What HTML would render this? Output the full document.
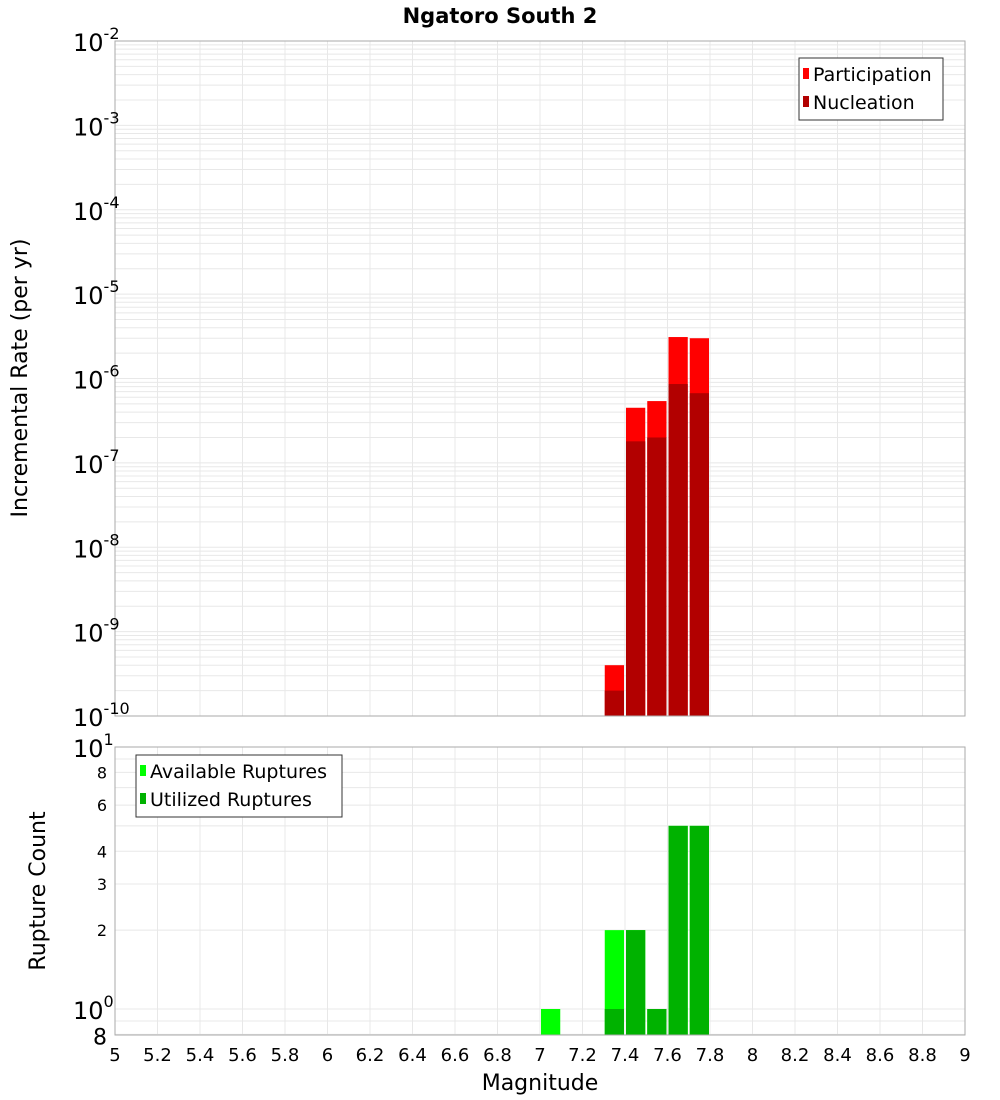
<!DOCTYPE html>
<html><head><meta charset="utf-8"><style>
html,body{margin:0;padding:0;background:#fff;}
svg{display:block;font-family:"Liberation Sans","DejaVu Sans",sans-serif;}
</style></head><body>
<svg id="chart" width="1000" height="1100" viewBox="0 0 1000 1100" xmlns="http://www.w3.org/2000/svg">
<text x="500" y="23" text-anchor="middle" font-size="21" font-weight="bold" font-family="DejaVu Sans, sans-serif">Ngatoro South 2</text>
<g id="topg"></g><g id="botg"></g>
<text transform="translate(27,378) rotate(-90)" text-anchor="middle" font-size="22" font-family="DejaVu Sans, sans-serif">Incremental Rate (per yr)</text>
<text transform="translate(45,891) rotate(-90)" text-anchor="middle" font-size="22" font-family="DejaVu Sans, sans-serif">Rupture Count</text>
<text x="540" y="1090" text-anchor="middle" font-size="22" font-family="DejaVu Sans, sans-serif">Magnitude</text>
</svg>
<script>
const mags = [7.05, 7.35, 7.45, 7.55, 7.65, 7.75];
const participation = [null, 4.0e-10, 4.5e-7, 5.4e-7, 3.1e-6, 3.0e-6];
const nucleation = [null, 2.0e-10, 1.8e-7, 2.0e-7, 8.6e-7, 6.7e-7];
const available = [1, 2, 2, 1, 5, 5];
const utilized = [null, 1, 2, 1, 5, 5];
const xTicks = [5,5.2,5.4,5.6,5.8,6,6.2,6.4,6.6,6.8,7,7.2,7.4,7.6,7.8,8,8.2,8.4,8.6,8.8,9];
const topExps = [-10,-9,-8,-7,-6,-5,-4,-3,-2];
const botTicks = [0.8,1,2,3,4,6,8,10];

const NS = "http://www.w3.org/2000/svg";
const L=115,R=965;
const xs = m => L + (m-5)/4*(R-L);
const T0=41,T1=716; const yT = v => T1 - (Math.log10(v)+10)/8*(T1-T0);
const B0=747,B1=1035; const yB = v => 1009 - Math.log10(v)*262;
function mk(p,tag,a,txt){const e=document.createElementNS(NS,tag);for(const k in a)e.setAttribute(k,a[k]);if(txt!==undefined)e.textContent=txt;p.appendChild(e);return e;}
const topG=document.getElementById('topg'), botG=document.getElementById('botg');

for(const t of xTicks){
  const g1=mk(topG,'line',{x1:xs(t),x2:xs(t),y1:T0,y2:T1,stroke:'#e8e8e8'});
  
  
  const g2=mk(botG,'line',{x1:xs(t),x2:xs(t),y1:B0,y2:B1,stroke:'#e8e8e8'});
  
  
}
for(let e=-10;e<-2;e++)for(let k=1;k<10;k++){
  const y=yT(k*Math.pow(10,e));
  const g=mk(topG,'line',{x1:L,x2:R,y1:y,y2:y,stroke:'#e8e8e8'});
  
  
}
for(const v of [0.8,0.9,1,2,3,4,5,6,7,8,9]){
  const y=yB(v);
  const g=mk(botG,'line',{x1:L,x2:R,y1:y,y2:y,stroke:'#e8e8e8'});
  
  
}
const bw=xs(5.1)-xs(5)-2;
mags.forEach((m,i)=>{
  const bx=xs(m-0.05)+1;
  if(participation[i]){const r=mk(topG,'rect',{x:bx,y:yT(participation[i]),width:bw,height:T1-yT(participation[i]),fill:'#ff0000'});
    
    }
  if(nucleation[i]){const r=mk(topG,'rect',{x:bx,y:yT(nucleation[i]),width:bw,height:T1-yT(nucleation[i]),fill:'#b20000'});
    
    }
  if(available[i]){const r=mk(botG,'rect',{x:bx,y:yB(available[i]),width:bw,height:B1-yB(available[i]),fill:'#00ff00'});
    
    }
  if(utilized[i]){const r=mk(botG,'rect',{x:bx,y:yB(utilized[i]),width:bw,height:B1-yB(utilized[i]),fill:'#00b200'});
    
    }
});
const f1=mk(topG,'rect',{x:L,y:T0,width:R-L,height:T1-T0,fill:'none',stroke:'#aaa'});


const f2=mk(botG,'rect',{x:L,y:B0,width:R-L,height:B1-B0,fill:'none',stroke:'#aaa'});


for(const e of topExps){
  const y=yT(Math.pow(10,e));
  const t=mk(topG,'text',{x:73,y:y+10,'font-size':24,'font-family':'DejaVu Sans, sans-serif'});
  
  
  mk(t,'tspan',{},'10');mk(t,'tspan',{dy:-12,'font-size':16},String(e));
}
for(const v of botTicks){
  const y=yB(v);let t;
  if(v===1||v===10){
    t=mk(botG,'text',{x:73,y:y+10,'font-size':24,'font-family':'DejaVu Sans, sans-serif'});
    mk(t,'tspan',{},'10');mk(t,'tspan',{dy:-12,'font-size':16},v===1?'0':'1');
  } else if(v===0.8){
    t=mk(botG,'text',{x:107,y:y+10,'font-size':22,'text-anchor':'end','font-family':'DejaVu Sans, sans-serif'},'8');
  } else {
    t=mk(botG,'text',{x:107,y:y+6,'font-size':16,'text-anchor':'end','font-family':'DejaVu Sans, sans-serif'},String(v));
  }
  
  
}
for(const tk of xTicks){
  const t=mk(botG,'text',{x:xs(tk),y:1061,'text-anchor':'middle','font-size':18,'font-family':'DejaVu Sans, sans-serif'},String(tk));
  
  
}
function legend(p,name,x0,y0,w,items){
  const g=mk(p,'g',{});
  
  
  mk(g,'rect',{x:x0,y:y0,width:w,height:items.length*28+6,fill:'#fff',stroke:'#333'});
  items.forEach((it,i)=>{
    const sw=mk(g,'rect',{x:x0+4,y:y0+10+i*28,width:6,height:11,fill:it[1]});
    
    
    const t=mk(g,'text',{x:x0+14,y:y0+23+i*28,'font-size':19,'font-family':'DejaVu Sans, sans-serif'},it[0]);
    
    
  });
}
legend(topG,'top-legend',799,58,144,[['Participation','#ff0000'],['Nucleation','#b20000']]);
legend(botG,'bottom-legend',136,755,206,[['Available Ruptures','#00ff00'],['Utilized Ruptures','#00b200']]);
</script>
</body></html>
